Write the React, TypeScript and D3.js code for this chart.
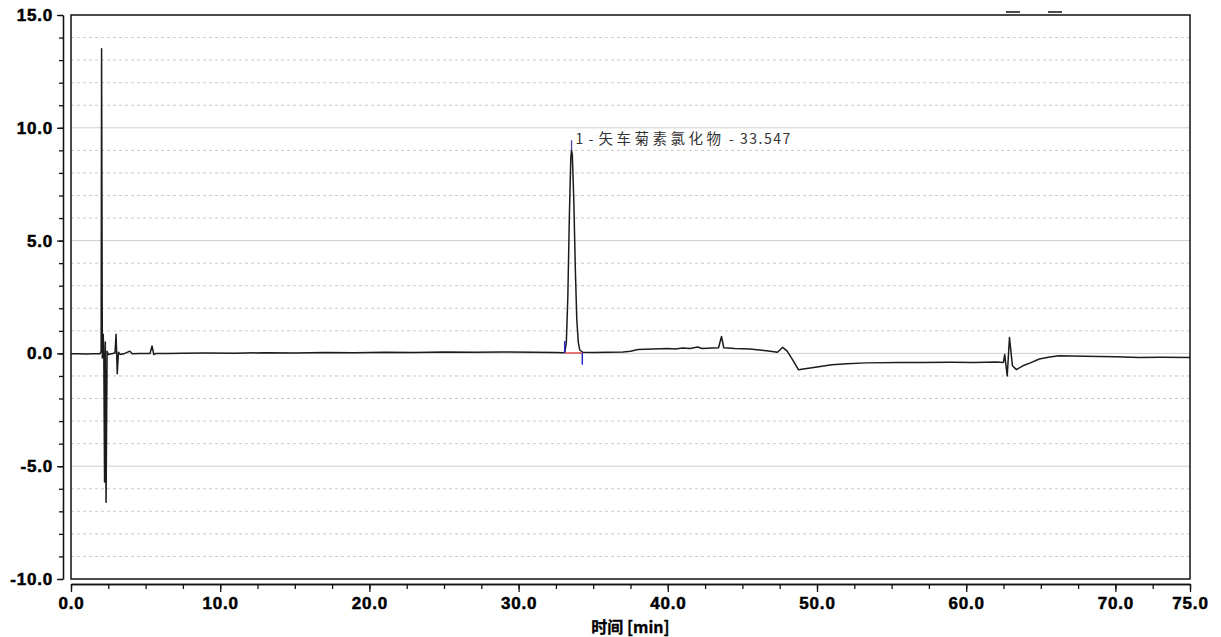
import React, { useEffect, useRef } from "react";
import * as d3 from "d3";

// retention time (min) / signal pairs
const times = [
  0, 0.5, 1.0, 1.5, 1.95, 2.02, 2.05, 2.1, 2.16, 2.2, 2.25, 2.3, 2.35, 2.42, 2.5,
  2.8, 2.95, 3.02, 3.1, 3.18, 3.3, 3.6, 3.95, 4.1, 4.6, 5.3, 5.43, 5.55, 5.7,
  6.5, 7.5, 9, 11, 13, 15, 17, 19, 21, 23, 25, 27, 29, 31, 32.5, 33.0,
  33.1, 33.2, 33.3, 33.4, 33.5, 33.55, 33.6, 33.7, 33.8, 33.9, 34.0, 34.1, 34.3,
  35, 36, 37, 37.5, 38, 39, 40, 40.5, 41, 41.5, 42, 42.3, 43, 43.4, 43.6, 43.75,
  44.5, 45.5, 46.3, 47, 47.35, 47.7, 48.0, 48.4, 48.75, 50, 51, 52, 53.3, 55.5,
  57, 59, 60.5, 62, 62.5, 62.58, 62.75, 62.9, 63.1, 63.36, 63.8, 64.3, 64.9, 65.5,
  66.2, 67, 68.9, 70, 71.6, 73, 75,
];
const signal = [
  -0.02, -0.02, -0.03, -0.02, -0.02, 0.1, 13.5, -0.2, 0.85, -0.1, -5.7, 0.5, -6.6, 0.1, -0.05,
  0.0, 0.02, 0.85, -0.9, 0.05, -0.05, 0.0, 0.1, -0.02, 0.0, 0.0, 0.33, -0.05, 0.0,
  0.0, 0.01, 0.02, 0.01, 0.03, 0.02, 0.04, 0.03, 0.05, 0.04, 0.06, 0.05, 0.06, 0.05, 0.04, 0.03,
  0.05, 0.5, 2.5, 6.0, 8.7, 9.0, 8.8, 6.8, 3.8, 1.5, 0.5, 0.15, 0.05,
  0.04, 0.05, 0.06, 0.1, 0.17, 0.2, 0.22, 0.2, 0.24, 0.22, 0.28, 0.22, 0.24, 0.25, 0.75, 0.25,
  0.22, 0.2, 0.14, 0.08, 0.05, 0.27, 0.1, -0.32, -0.72, -0.6, -0.5, -0.46, -0.42, -0.4,
  -0.4, -0.39, -0.4, -0.38, -0.4, -0.05, -1.0, 0.7, -0.55, -0.72, -0.55, -0.42, -0.25, -0.17,
  -0.1, -0.12, -0.14, -0.15, -0.18, -0.17, -0.18,
];

const yMajor = [-10, -5, 0, 5, 10, 15];
const yMinor = d3.range(-10, 16, 1);
const xMajor = [0, 10, 20, 30, 40, 50, 60, 70, 75];
const xMinor = d3.range(0, 75.01, 2.5);

const peakTime = 33.547;
const peakTop = 9.0;
const peakStart = 33.09;
const peakEnd = 34.27;
const peakName = "矢车菊素氯化物";

const W = 1221;
const H = 637;
const FONT = "'Liberation Sans', Arial, sans-serif";
const fmt = (v: number) => v.toFixed(1);

const App = () => {
  const svgRef = useRef(null);

  useEffect(() => {
    const svg = d3.select(svgRef.current);
    svg.selectAll("*").remove();

    const left = 71, right = 1190, top = 15, bottom = 579;
    const x = d3.scaleLinear().domain([0, 75]).range([left, right]);
    const y = d3.scaleLinear().domain([-10, 15]).range([bottom, top]);

    // grid
    const grid = svg.append("g");
    yMinor.filter(v => !yMajor.includes(v)).forEach(v => {
      grid.append("line")
        .attr("x1", left).attr("x2", right)
        .attr("y1", y(v)).attr("y2", y(v))
        .attr("stroke", "#c9c9c9")
        .attr("stroke-dasharray", "3,3");
    });
    yMajor.filter(v => v > -10 && v < 15).forEach(v => {
      grid.append("line")
        .attr("x1", left).attr("x2", right)
        .attr("y1", y(v)).attr("y2", y(v))
        .attr("stroke", "#cfcfcf");
    });

    // frame
    svg.append("rect")
      .attr("x", left).attr("y", top)
      .attr("width", right - left).attr("height", bottom - top)
      .attr("fill", "none")
      .attr("stroke", "#111")
      .attr("stroke-width", 1.5);

    const styleLabels = sel => sel
      .attr("fill", "#000")
      .attr("stroke", "#000")
      .attr("stroke-width", 0.5)
      .style("font-family", FONT)
      .style("font-weight", "bold")
      .style("font-size", "17px")
      .style("letter-spacing", "0.8px");

    // y axis (offset from frame)
    const yAx = svg.append("g").attr("transform", `translate(63,0)`);
    yAx.call(d3.axisLeft(y).tickValues(yMinor).tickSize(4).tickSizeOuter(0).tickFormat(() => ""));
    yAx.append("g").call(d3.axisLeft(y).tickValues(yMajor).tickSize(6).tickSizeOuter(0).tickPadding(4)
      .tickFormat(fmt));
    yAx.selectAll("path,line").attr("stroke", "#111").attr("stroke-width", 1.3);
    styleLabels(yAx.selectAll("text"));

    // x axis (offset below frame)
    const xAx = svg.append("g").attr("transform", `translate(0,584)`);
    xAx.call(d3.axisBottom(x).tickValues(xMinor).tickSize(5).tickSizeOuter(0).tickFormat(() => ""));
    xAx.append("g").call(d3.axisBottom(x).tickValues(xMajor).tickSize(8).tickSizeOuter(0).tickPadding(5)
      .tickFormat(fmt));
    xAx.selectAll("path,line").attr("stroke", "#111").attr("stroke-width", 1.3);
    styleLabels(xAx.selectAll("text"));

    svg.append("text")
      .attr("x", (left + right) / 2)
      .attr("y", 633)
      .attr("text-anchor", "middle")
      .attr("stroke", "#000")
      .attr("stroke-width", 0.3)
      .style("font-family", "'Noto Sans CJK SC', " + FONT)
      .style("font-weight", "bold")
      .style("font-size", "16px")
      .text("时间 [min]");

    // trace
    const pts = times.map((t, i) => [t, signal[i]]);
    const line = d3.line().x(d => x(d[0])).y(d => y(d[1]));
    svg.append("path")
      .datum(pts)
      .attr("d", line)
      .attr("fill", "none")
      .attr("stroke", "#1c1c1c")
      .attr("stroke-width", 1.5)
      .attr("stroke-linejoin", "round");

    // peak integration marks
    svg.append("line")
      .attr("x1", x(peakStart)).attr("x2", x(peakEnd))
      .attr("y1", y(0.02)).attr("y2", y(0.02))
      .attr("stroke", "#e43a3a").attr("stroke-width", 1.3);
    svg.append("line")
      .attr("x1", x(peakStart)).attr("x2", x(peakStart))
      .attr("y1", y(0.02)).attr("y2", y(0.55))
      .attr("stroke", "#2a2acc").attr("stroke-width", 1.5);
    svg.append("line")
      .attr("x1", x(peakEnd)).attr("x2", x(peakEnd))
      .attr("y1", y(0.02)).attr("y2", y(-0.5))
      .attr("stroke", "#2a2acc").attr("stroke-width", 1.5);
    svg.append("line")
      .attr("x1", x(peakTime)).attr("x2", x(peakTime))
      .attr("y1", y(peakTop)).attr("y2", y(peakTop + 0.45))
      .attr("stroke", "#5a3aa8").attr("stroke-width", 1.3);

    const label = svg.append("text")
      .attr("x", x(peakTime) + 4)
      .attr("y", y(peakTop + 0.3))
      .attr("fill", "#333")
      .style("font-family", "'Noto Sans CJK SC', " + FONT)
      .style("font-size", "14px");
    label.append("tspan").style("letter-spacing", "1px").text("1 - ");
    label.append("tspan").style("letter-spacing", "3.5px").style("font-size", "14.5px").text(peakName);
    label.append("tspan").style("letter-spacing", "1.5px").text(" - " + peakTime.toFixed(3));

    // cut-off legend marks at top right
    [1006, 1048].forEach(x0 => {
      svg.append("line")
        .attr("x1", x0).attr("x2", x0 + 14)
        .attr("y1", 12).attr("y2", 12)
        .attr("stroke", "#111").attr("stroke-width", 1.5);
    });
  }, []);

  return (
    <svg
      ref={svgRef}
      width={W}
      height={H}
      style={{ position: "absolute", left: 0, top: 0, background: "#fff" }}
    />
  );
};

export default App;
